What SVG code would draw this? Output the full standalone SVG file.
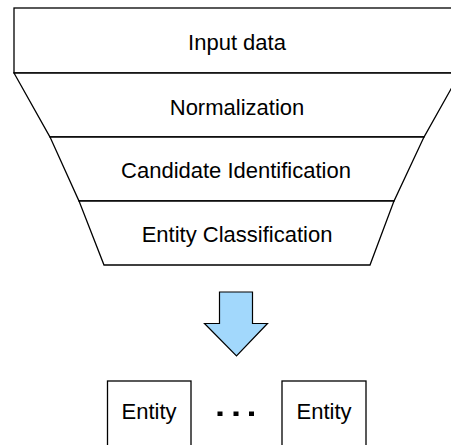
<svg xmlns="http://www.w3.org/2000/svg" width="451" height="445" viewBox="0 0 451 445">
<style>
.s{fill:#fff;stroke:#000;stroke-width:1.3}
.t{font-family:"Liberation Sans",Arial,Helvetica,sans-serif;font-size:22px;fill:#000;text-anchor:middle}
.dot{fill:#000}
</style>
<rect width="451" height="445" fill="#fff"/>
<g id="input-data">
<rect class="s" x="14" y="8" width="446" height="65"/>
<text class="t" x="237" y="50">Input data</text>
</g>
<g id="normalization">
<polygon class="s" points="14,73 460,73 424,137 50,137"/>
<text class="t" x="237" y="115">Normalization</text>
</g>
<g id="candidate-identification">
<polygon class="s" points="50,137 424,137 394,201 79,201"/>
<text class="t" x="236" y="178">Candidate Identification</text>
</g>
<g id="entity-classification">
<polygon class="s" points="79,201 394,201 370,265 104,265"/>
<text class="t" x="237" y="242">Entity Classification</text>
</g>
<g id="connectors">
<polygon points="219.5,292 252.5,292 252.5,323.5 267.5,323.5 236.5,356 204.5,323.5 219.5,323.5" fill="#a2d8fc" stroke="#000" stroke-width="1.2" stroke-linejoin="miter"/>
</g>
<g id="entity-1">
<rect class="s" x="107.5" y="381" width="83.5" height="70"/>
<text class="t" x="149" y="419">Entity</text>
</g>
<g id="ellipsis">
<rect class="dot" x="217.5" y="411.5" width="5" height="4.5"/>
<rect class="dot" x="233.5" y="411.5" width="5" height="4.5"/>
<rect class="dot" x="249" y="411.5" width="5" height="4.5"/>
</g>
<g id="entity-2">
<rect class="s" x="282" y="381" width="84" height="70"/>
<text class="t" x="324" y="419">Entity</text>
</g>
</svg>
